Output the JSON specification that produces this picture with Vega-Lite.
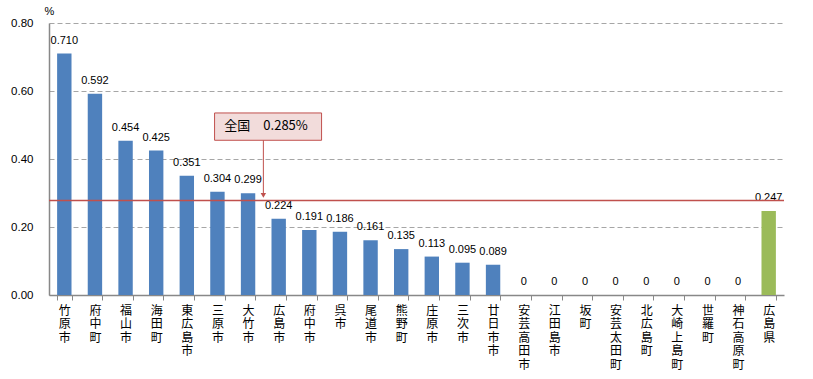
{
  "$schema": "https://vega.github.io/schema/vega-lite/v6.json",
  "autosize": {"type": "none"},
  "padding": {"left": 49, "top": 23, "right": 29, "bottom": 84},
  "width": 735,
  "height": 272,
  "background": "white",
  "config": {
    "view": {"stroke": null},
    "font": "Liberation Sans"
  },
  "datasets": {
    "main": [
      {"name": "竹原市", "v": 0.710},
      {"name": "府中町", "v": 0.592},
      {"name": "福山市", "v": 0.454},
      {"name": "海田町", "v": 0.425},
      {"name": "東広島市", "v": 0.351},
      {"name": "三原市", "v": 0.304},
      {"name": "大竹市", "v": 0.299},
      {"name": "広島市", "v": 0.224},
      {"name": "府中市", "v": 0.191},
      {"name": "呉市", "v": 0.186},
      {"name": "尾道市", "v": 0.161},
      {"name": "熊野町", "v": 0.135},
      {"name": "庄原市", "v": 0.113},
      {"name": "三次市", "v": 0.095},
      {"name": "廿日市市", "v": 0.089},
      {"name": "安芸高田市", "v": 0},
      {"name": "江田島市", "v": 0},
      {"name": "坂町", "v": 0},
      {"name": "安芸太田町", "v": 0},
      {"name": "北広島町", "v": 0},
      {"name": "大崎上島町", "v": 0},
      {"name": "世羅町", "v": 0},
      {"name": "神石高原町", "v": 0},
      {"name": "広島県", "v": 0.247}
    ],
    "note": [
      {"name": "大竹市", "top": 0.5354, "bottom": 0.4551, "mid": 0.4967, "arrowEnd": 0.300, "tip": 0.293, "label": "全国　0.285%"}
    ],
    "national": [
      {"y": 0.278}
    ]
  },
  "layer": [
    {
      "data": {"name": "main"},
      "transform": [
        {"calculate": "datum.v == 0 ? '0' : format(datum.v, '.3f')", "as": "lbl"}
      ],
      "encoding": {
        "x": {
          "field": "name", "type": "nominal", "sort": null,
          "scale": {"paddingInner": 0.53, "paddingOuter": 0.265},
          "axis": {
            "title": null,
            "labelAngle": 0,
            "labelExpr": "split(datum.label, '')",
            "labelFont": "Noto Sans CJK JP",
            "labelFontSize": 12,
            "labelLineHeight": 13.5,
            "labelColor": "#000000",
            "labelOpacity": 1,
            "labelBaseline": "top",
            "labelPadding": 5,
            "labelOverlap": false,
            "tickBand": "extent",
            "tickSize": 5,
            "tickColor": "#888888",
            "domainColor": "#888888",
            "domainWidth": 1.5,
            "grid": false
          }
        },
        "y": {
          "field": "v", "type": "quantitative",
          "scale": {"domain": [0, 0.8], "nice": false},
          "axis": {
            "values": [0, 0.1, 0.2, 0.3, 0.4, 0.5, 0.6, 0.7, 0.8],
            "format": ".2f",
            "title": "%",
            "titleAngle": 0,
            "titleX": 0,
            "titleY": -12,
            "titleAlign": "center",
            "titleBaseline": "middle",
            "titleFont": "Liberation Sans",
            "titleFontWeight": "normal",
            "titleFontSize": 11,
            "titleColor": "black",
            "labelFont": "Liberation Sans",
            "labelFontSize": 11.5,
            "labelColor": "black",
            "labelPadding": 16,
            "ticks": false,
            "domainColor": "#888888",
            "domainWidth": 1.5,
            "gridColor": "#a6a6a6",
            "gridDash": [5, 3],
            "gridWidth": 1
          }
        }
      },
      "layer": [
        {
          "mark": {"type": "bar"},
          "encoding": {
            "color": {
              "condition": {"test": "datum.name === '広島県'", "value": "#9bbb59"},
              "value": "#4f81bd"
            }
          }
        },
        {
          "mark": {"type": "text", "baseline": "alphabetic", "dy": -10, "fontSize": 11, "font": "Liberation Sans", "color": "black"},
          "encoding": {
            "text": {"field": "lbl"}
          }
        }
      ]
    },
    {
      "data": {"name": "national"},
      "mark": {"type": "rule", "color": "#c0504d", "strokeWidth": 1.3},
      "encoding": {"y": {"field": "y", "type": "quantitative"}}
    },
    {
      "data": {"name": "note"},
      "mark": {"type": "rect", "fill": "#f2dcdb", "stroke": "#c0504d", "strokeWidth": 1, "xOffset": -33.5, "x2Offset": 73.5},
      "encoding": {
        "x": {"field": "name", "type": "nominal", "sort": null, "bandPosition": 0.5},
        "x2": {"field": "name", "bandPosition": 0.5},
        "y": {"field": "top", "type": "quantitative"},
        "y2": {"field": "bottom"}
      }
    },
    {
      "data": {"name": "note"},
      "mark": {"type": "rule", "color": "#c0504d", "strokeWidth": 1, "xOffset": 15.3},
      "encoding": {
        "x": {"field": "name", "type": "nominal", "sort": null, "bandPosition": 0.5},
        "y": {"field": "bottom", "type": "quantitative"},
        "y2": {"field": "arrowEnd"}
      }
    },
    {
      "data": {"name": "note"},
      "mark": {"type": "point", "shape": "triangle-down", "filled": true, "color": "#c0504d", "size": 30, "opacity": 1, "xOffset": 15.3},
      "encoding": {
        "x": {"field": "name", "type": "nominal", "sort": null, "bandPosition": 0.5},
        "y": {"field": "tip", "type": "quantitative"}
      }
    },
    {
      "data": {"name": "note"},
      "mark": {"type": "text", "font": "Noto Sans CJK JP", "fontSize": 13, "color": "black", "baseline": "middle", "align": "center", "dx": 18},
      "encoding": {
        "x": {"field": "name", "type": "nominal", "sort": null, "bandPosition": 0.5},
        "y": {"field": "mid", "type": "quantitative"},
        "text": {"field": "label"}
      }
    }
  ]
}
